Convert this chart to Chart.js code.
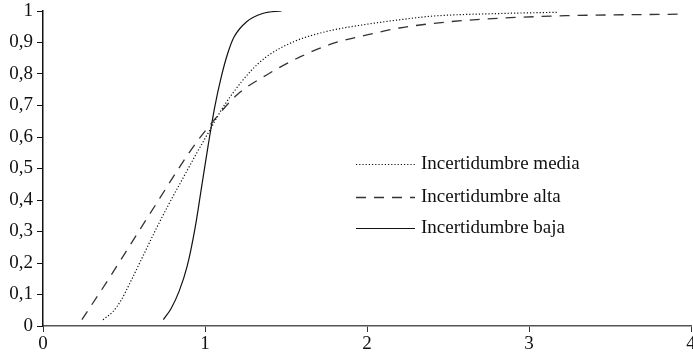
<!DOCTYPE html>
<html>
<head>
<meta charset="utf-8">
<script src="https://cdn.jsdelivr.net/npm/chart.js@4/dist/chart.umd.min.js"></script>
<style>
  html, body { margin: 0; padding: 0; background: #fff; overflow: hidden; }
  #wrap { position: relative; width: 693px; height: 357px; }
</style>
</head>
<body>
<div id="wrap"><canvas id="grafico" width="693" height="357"></canvas></div>
<script>
const xMedia = [0.37, 0.43, 0.48, 0.54, 0.62, 0.7, 0.78, 0.87, 0.95, 1.03, 1.1, 1.17, 1.28, 1.38, 1.55, 1.75, 2.0, 2.2, 2.41, 2.82, 3.18];
const yMedia = [0.02, 0.045, 0.08, 0.14, 0.225, 0.31, 0.39, 0.475, 0.55, 0.622, 0.685, 0.738, 0.808, 0.855, 0.903, 0.935, 0.958, 0.972, 0.984, 0.992, 0.996];

const xAlta = [0.24, 0.4, 0.56, 0.72, 0.85, 0.95, 1.05, 1.2, 1.38, 1.59, 1.79, 2.0, 2.2, 2.51, 2.82, 3.23, 3.95];
const yAlta = [0.02, 0.145, 0.275, 0.405, 0.51, 0.585, 0.65, 0.735, 0.797, 0.855, 0.897, 0.924, 0.946, 0.966, 0.977, 0.985, 0.99];

const xBaja = [0.743, 0.79, 0.84, 0.89, 0.94, 0.98, 1.02, 1.06, 1.1, 1.14, 1.18, 1.257, 1.36, 1.473];
const yBaja = [0.02, 0.055, 0.11, 0.19, 0.315, 0.445, 0.575, 0.695, 0.79, 0.865, 0.918, 0.966, 0.993, 1.0];

const nombres = ['Incertidumbre media', 'Incertidumbre alta', 'Incertidumbre baja'];
const ticksX = [0, 1, 2, 3, 4];

const FUENTE = '"Liberation Serif", "Times New Roman", serif';

function puntos(xs, ys) {
  return xs.map((x, i) => ({ x, y: ys[i] }));
}

const leyenda = {
  id: 'leyendaInterna',
  afterDraw(chart) {
    const c = chart.ctx;
    const filas = [164, 197, 228];
    c.save();
    chart.data.datasets.forEach((ds, i) => {
      const y = filas[i];
      c.beginPath();
      c.strokeStyle = ds.borderColor;
      c.lineWidth = ds.borderWidth;
      c.setLineDash(ds.borderDash || []);
      c.moveTo(356, y + 0.5);
      c.lineTo(415, y + 0.5);
      c.stroke();
      c.setLineDash([]);
      c.fillStyle = '#111';
      c.font = '19px ' + FUENTE;
      c.textAlign = 'left';
      c.textBaseline = 'middle';
      c.fillText(ds.label, 421, y);
    });
    c.restore();
  }
};

new Chart(document.getElementById('grafico'), {
  type: 'scatter',
  data: {
    datasets: [
      {
        label: nombres[0],
        data: puntos(xMedia, yMedia),
        borderColor: '#111',
        borderWidth: 1.2,
        borderDash: [1.2, 2],
        showLine: true,
        pointRadius: 0,
        cubicInterpolationMode: 'monotone'
      },
      {
        label: nombres[1],
        data: puntos(xAlta, yAlta),
        borderColor: '#333',
        borderWidth: 1.3,
        borderDash: [10, 8],
        showLine: true,
        pointRadius: 0,
        cubicInterpolationMode: 'monotone'
      },
      {
        label: nombres[2],
        data: puntos(xBaja, yBaja),
        borderColor: '#111',
        borderWidth: 1.2,
        showLine: true,
        pointRadius: 0,
        cubicInterpolationMode: 'monotone'
      }
    ]
  },
  options: {
    responsive: false,
    animation: false,
    devicePixelRatio: 1,
    layout: { padding: { top: 11, right: 2, left: 0, bottom: 0 } },
    plugins: {
      legend: { display: false },
      tooltip: { enabled: false }
    },
    scales: {
      x: {
        type: 'linear',
        min: 0,
        max: 4,
        afterBuildTicks(scale) { scale.ticks = ticksX.map(v => ({ value: v })); },
        afterFit(scale) { scale.height = 31; scale.paddingLeft = 0; scale.paddingRight = 0; },
        border: { display: true, color: '#555', width: 1.5 },
        grid: { display: true, drawOnChartArea: false, drawTicks: true, tickLength: 6, color: '#333' },
        ticks: { color: '#111', padding: 1, maxRotation: 0, autoSkip: false, font: { family: FUENTE, size: 19 } }
      },
      y: {
        type: 'linear',
        min: 0,
        max: 1,
        afterFit(scale) { scale.width = 43; scale.paddingTop = 0; scale.paddingBottom = 0; },
        border: { display: true, color: '#111', width: 1.5 },
        grid: { display: true, drawOnChartArea: false, drawTicks: true, tickLength: 6, color: '#111' },
        ticks: {
          stepSize: 0.1,
          autoSkip: false,
          color: '#111',
          padding: 4,
          font: { family: FUENTE, size: 19 },
          callback: v => String(Math.round(v * 10) / 10).replace('.', ',')
        }
      }
    }
  },
  plugins: [leyenda]
});
</script>
</body>
</html>
